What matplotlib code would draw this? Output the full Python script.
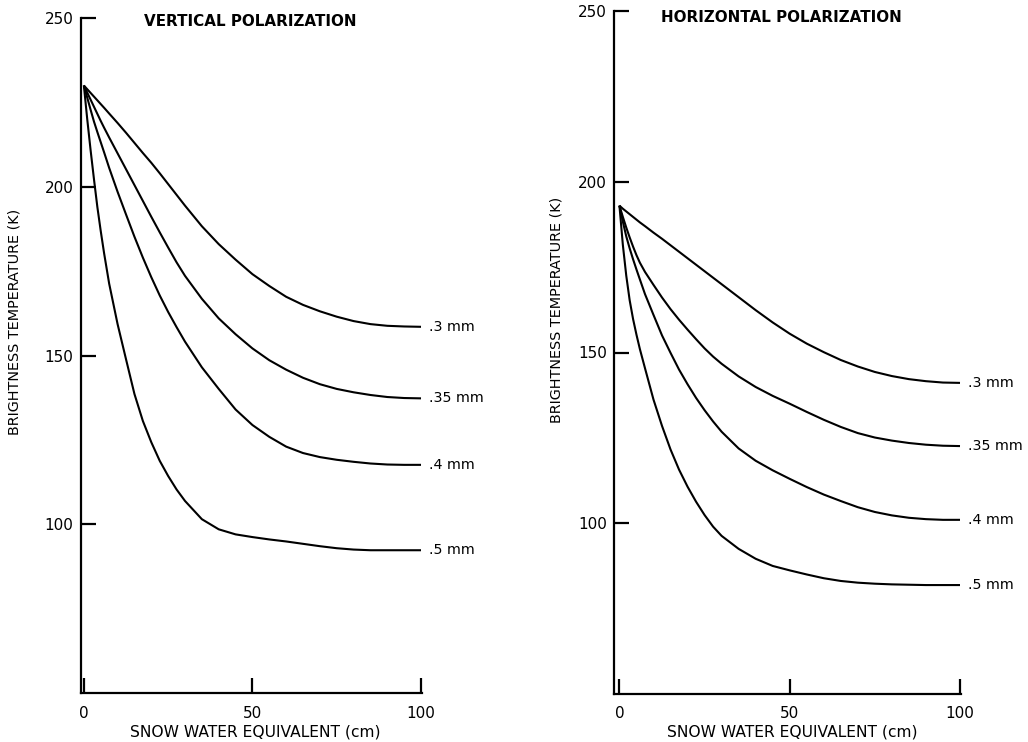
import matplotlib
matplotlib.use("Agg")
import matplotlib.pyplot as plt

# Snow water equivalent (cm) at which the brightness temperatures are read
swe = [0, 1, 2, 3, 4, 5, 6, 7.5, 10, 12.5, 15, 17.5, 20, 22.5, 25, 27.5, 30,
       35, 40, 45, 50, 55, 60, 65, 70, 75, 80, 85, 90, 95, 100]

grain_labels = [".3 mm", ".35 mm", ".4 mm", ".5 mm"]

# Vertical polarization brightness temperature (K) per grain radius
tb_v_03 = [230, 228.9, 227.8, 226.7, 225.6, 224.5, 223.4, 221.7, 218.9, 216.0, 213.0,
           210.0, 207.1, 204.0, 200.8, 197.6, 194.4, 188.3, 183.0, 178.4, 174.1,
           170.6, 167.4, 165.0, 163.1, 161.5, 160.2, 159.3, 158.8, 158.6, 158.5]
tb_v_035 = [230, 227.9, 225.8, 223.7, 221.6, 219.5, 217.5, 214.6, 209.9, 205.2, 200.5,
            195.8, 191.1, 186.5, 182.0, 177.6, 173.6, 166.8, 161.0, 156.3, 152.1,
            148.6, 145.8, 143.4, 141.5, 140.1, 139.1, 138.3, 137.7, 137.4, 137.3]
tb_v_04 = [230, 226.4, 222.8, 219.3, 216.2, 213.2, 210.2, 205.6, 198.5, 191.8, 185.2,
           179.0, 173.2, 167.8, 162.9, 158.4, 154.1, 146.5, 140.1, 134.0, 129.4,
           125.9, 123.0, 121.1, 119.9, 119.1, 118.5, 118.0, 117.7, 117.6, 117.6]
tb_v_05 = [230, 220.0, 210.8, 202.2, 194.0, 186.9, 180.3, 171.3, 159.3, 148.9, 138.6,
           130.6, 124.3, 118.8, 114.3, 110.3, 106.9, 101.5, 98.5, 97.0, 96.2,
           95.5, 94.9, 94.2, 93.5, 92.9, 92.5, 92.3, 92.3, 92.3, 92.3]

# Horizontal polarization brightness temperature (K) per grain radius
tb_h_03 = [193, 192.1, 191.3, 190.5, 189.7, 188.9, 188.1, 187.0, 185.1, 183.3, 181.4,
           179.5, 177.6, 175.7, 173.8, 171.9, 170.0, 166.2, 162.4, 158.8, 155.5,
           152.6, 150.1, 147.8, 145.9, 144.3, 143.1, 142.2, 141.6, 141.2, 141.1]
tb_h_035 = [193, 189.7, 186.6, 183.7, 181.0, 178.5, 176.3, 173.6, 169.8, 166.1, 162.7,
            159.6, 156.7, 153.9, 151.2, 148.8, 146.7, 143.0, 139.9, 137.3, 135.0,
            132.6, 130.3, 128.2, 126.4, 125.1, 124.2, 123.5, 123.0, 122.7, 122.6]
tb_h_04 = [193, 188.3, 184.0, 180.5, 177.3, 174.3, 171.4, 167.1, 161.0, 155.0, 149.9,
           145.0, 140.7, 136.7, 133.1, 129.8, 126.8, 121.9, 118.3, 115.5, 113.0,
           110.6, 108.4, 106.5, 104.7, 103.3, 102.3, 101.6, 101.2, 101.0, 101.0]
tb_h_05 = [193, 181.5, 172.5, 165.3, 159.8, 155.2, 151.0, 145.4, 136.2, 128.5, 121.6,
           115.7, 110.7, 106.3, 102.4, 99.0, 96.3, 92.5, 89.6, 87.5, 86.2,
           85.0, 83.9, 83.1, 82.6, 82.3, 82.1, 82.0, 81.9, 81.9, 81.9]

x_ticks = [0, 50, 100]
y_ticks = [100, 150, 200, 250]

plt.rcParams["font.family"] = ["DejaVu Sans"]

W, H = 1028, 742
fig = plt.figure(figsize=(W / 100, H / 100), dpi=100)
fig.patch.set_facecolor("white")


def px_axes(left, right, top, bottom):
    return fig.add_axes([left / W, 1 - bottom / H, (right - left) / W, (bottom - top) / H])


panels = [
    dict(ax=px_axes(80.5, 421, 18, 693), xmin=-1.0,
         series=[tb_v_03, tb_v_035, tb_v_04, tb_v_05],
         title="VERTICAL POLARIZATION", title_xy=(250, 22),
         xlabel_xy=(255, 732), ylabel_xy=(15, 322)),
    dict(ax=px_axes(614, 960, 11, 694), xmin=-1.6,
         series=[tb_h_03, tb_h_035, tb_h_04, tb_h_05],
         title="HORIZONTAL POLARIZATION", title_xy=(781, 18),
         xlabel_xy=(792, 732), ylabel_xy=(557, 310)),
]

for p in panels:
    ax = p["ax"]
    ax.set_xlim(p["xmin"], 100)
    ax.set_ylim(50, 250)
    ax.patch.set_alpha(0)
    for side in ("top", "right"):
        ax.spines[side].set_visible(False)
    for side in ("left", "bottom"):
        ax.spines[side].set_linewidth(1.6)
        ax.spines[side].set_color("black")
    ax.spines["bottom"].set_bounds(p["xmin"], 100.4)

    ax.set_xticks(x_ticks)
    ax.set_yticks(y_ticks)
    ax.set_xticklabels([str(v) for v in x_ticks])
    ax.set_yticklabels([str(v) for v in y_ticks])
    ax.tick_params(axis="both", direction="in", length=11, width=1.6,
                   labelsize=11, colors="black")
    ax.tick_params(axis="x", pad=9)
    ax.tick_params(axis="y", pad=5)

    for yv, lab in zip(p["series"], grain_labels):
        ax.plot(swe, yv, color="black", lw=1.5, solid_capstyle="butt",
                solid_joinstyle="round", clip_on=False)
        ax.annotate(lab, xy=(100, yv[-1]), xytext=(6, 0), textcoords="offset points",
                    ha="left", va="center", fontsize=10.3)

    tx, ty = p["title_xy"]
    fig.text(tx / W, 1 - ty / H, p["title"], ha="center", va="center",
             fontsize=10.9, fontweight="bold")
    lx, ly = p["xlabel_xy"]
    fig.text(lx / W, 1 - ly / H, "SNOW WATER EQUIVALENT (cm)", ha="center",
             va="center", fontsize=11.2)
    yx, yy = p["ylabel_xy"]
    fig.text(yx / W, 1 - yy / H, "BRIGHTNESS TEMPERATURE (K)", ha="center",
             va="center", rotation=90, fontsize=10.4)

fig.savefig("out.png", dpi=100, facecolor="white")
